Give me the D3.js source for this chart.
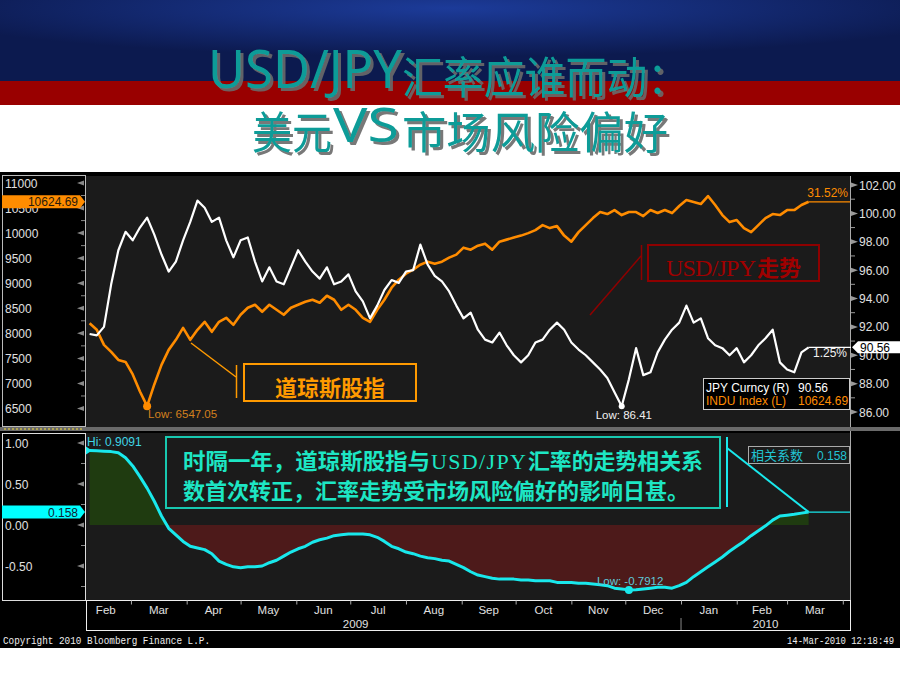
<!DOCTYPE html>
<html><head><meta charset="utf-8">
<script src="https://cdn.jsdelivr.net/npm/d3@7"></script>
<style>body{margin:0;background:#fff;overflow:hidden} svg{display:block}</style>
</head><body><svg id="c" width="900" height="675"></svg>
<script>
// ---------- DATA ----------
const startDate = "2009-02-06";
const stepDays = 4;
const jpy = [91.5,91.4,92.0,95.0,97.4,98.7,98.1,99.0,99.7,98.5,
97.1,95.9,96.6,98.1,99.4,100.9,100.4,99.4,99.7,98.1,
96.9,98.1,98.3,96.6,95.2,96.2,95.2,95.0,96.2,97.4,
96.6,95.9,95.4,96.2,95.0,95.2,95.7,94.5,93.8,92.6,
93.5,94.6,95.3,95.1,95.9,96.0,97.8,96.4,95.6,95.2,
94.5,93.5,92.6,93.0,91.8,91.1,90.9,91.6,90.7,90.0,
89.5,90.0,90.9,91.1,91.8,92.3,91.8,90.9,90.4,90.0,
89.5,89.0,88.4,87.4,86.41,88.3,90.5,88.6,88.8,90.2,
91.1,91.8,92.3,93.5,92.3,92.6,91.2,90.7,90.5,90.0,
90.5,89.5,90.0,90.7,91.2,91.8,89.5,89.0,88.8,90.2,
90.56];
const indu = [8200,8070,7770,7630,7470,7430,7180,6840,6547.05,6980,
7370,7670,7870,8110,7870,8070,8230,8030,8230,8310,
8170,8370,8510,8570,8430,8570,8470,8370,8510,8570,
8630,8670,8610,8750,8670,8470,8570,8470,8310,8230,
8470,8670,8910,9070,9190,9270,9370,9430,9390,9430,
9510,9570,9710,9670,9750,9790,9670,9830,9870,9910,
9950,10000,10060,10160,10100,10140,9950,9830,10020,10160,
10300,10420,10380,10460,10360,10420,10420,10340,10460,10400,
10460,10400,10540,10660,10620,10580,10740,10560,10360,10220,
10260,10100,10020,10160,10300,10380,10360,10460,10460,10560,
10624.69];
const corr = [0.9091,0.905,0.90,0.895,0.88,0.82,0.72,0.59,0.45,0.29,
0.11,-0.04,-0.12,-0.20,-0.26,-0.28,-0.30,-0.35,-0.44,-0.48,
-0.51,-0.52,-0.51,-0.51,-0.50,-0.46,-0.43,-0.38,-0.33,-0.29,
-0.26,-0.21,-0.18,-0.16,-0.13,-0.12,-0.11,-0.11,-0.11,-0.12,
-0.15,-0.20,-0.26,-0.29,-0.33,-0.35,-0.38,-0.40,-0.41,-0.43,
-0.44,-0.48,-0.52,-0.57,-0.61,-0.63,-0.65,-0.66,-0.66,-0.66,
-0.67,-0.67,-0.68,-0.68,-0.68,-0.70,-0.70,-0.70,-0.71,-0.71,
-0.72,-0.73,-0.74,-0.77,-0.78,-0.7912,-0.79,-0.78,-0.77,-0.76,
-0.76,-0.77,-0.74,-0.70,-0.63,-0.57,-0.51,-0.45,-0.39,-0.32,
-0.26,-0.20,-0.13,-0.07,-0.01,0.06,0.11,0.12,0.13,0.145,
0.158];
const changeLabels = ["31.52%", "1.25%"];
const leftTicks = [6500,7000,7500,8000,8500,9000,9500,10000,10500,11000];
const rightTicks = [86,88,90,92,94,96,98,100,102];
const corrTicks = [-0.5,0,0.5,1];
const monthLabels = ["Feb","Mar","Apr","May","Jun","Jul","Aug","Sep","Oct","Nov","Dec","Jan","Feb","Mar"];
const yearLabels = ["2009","2010"];
const domainStart = "2009-02-04", domainEnd = "2010-04-05";

// ---------- SETUP ----------
const svg = d3.select("#c");
const parse = d3.timeParse("%Y-%m-%d");
const t0 = parse(startDate);
const dates = jpy.map((_, i) => d3.timeDay.offset(t0, i * stepDays));
const x = d3.scaleTime().domain([parse(domainStart), parse(domainEnd)]).range([86, 850]);
const yL = d3.scaleLinear().domain([6500, 11000]).range([408.5, 183]);
const yR = d3.scaleLinear().domain([86, 102]).range([412, 185]);
const yC = d3.scaleLinear().domain([-0.5, 1]).range([566, 443]);
const AX = "Liberation Sans, Arial, sans-serif";

// ---------- BANNER ----------
const defs = svg.append("defs");
const rg = defs.append("radialGradient").attr("id","bg").attr("cx","50%").attr("cy","10%").attr("r","60%");
rg.append("stop").attr("offset","0%").attr("stop-color","#1c3b99");
rg.append("stop").attr("offset","100%").attr("stop-color","#0c1a4f");
const sh = defs.append("filter").attr("id","sh").attr("x","-5%").attr("y","-20%").attr("width","115%").attr("height","150%");
sh.append("feDropShadow").attr("dx",3).attr("dy",3).attr("stdDeviation",0.7).attr("flood-color","#6a6a6a").attr("flood-opacity",0.9);
svg.append("rect").attr("x",0).attr("y",0).attr("width",900).attr("height",81).attr("fill","url(#bg)");
svg.append("rect").attr("x",0).attr("y",81).attr("width",900).attr("height",24).attr("fill","#990000");

const g = svg.append("g").attr("fill", "#0a9c98").attr("filter","url(#sh)");
const t1 = g.append("text");
t1.append("tspan").attr("x",208).attr("y",88).style("font-family","Noto Sans, sans-serif").style("font-size","52px")
  .attr("textLength",194).attr("lengthAdjust","spacingAndGlyphs").text("USD/JPY");
t1.append("tspan").attr("x",402).attr("y",94).style("font-family","Noto Sans CJK SC").style("font-size","44px")
  .attr("textLength",286).attr("lengthAdjust","spacingAndGlyphs").text("汇率应谁而动：");
const t2 = g.append("text");
t2.append("tspan").attr("x",252).attr("y",149).style("font-family","Noto Sans CJK SC").style("font-size","44px")
  .attr("textLength",80).attr("lengthAdjust","spacingAndGlyphs").text("美元");
t2.append("tspan").attr("x",333).attr("y",142).style("font-family","Noto Sans, sans-serif").style("font-size","48px")
  .attr("textLength",66).attr("lengthAdjust","spacingAndGlyphs").text("VS");
t2.append("tspan").attr("x",402).attr("y",149).style("font-family","Noto Sans CJK SC").style("font-size","44px")
  .attr("textLength",266).attr("lengthAdjust","spacingAndGlyphs").text("市场风险偏好");

// ---------- CHART FRAME ----------
svg.append("rect").attr("x",0).attr("y",172).attr("width",900).attr("height",476).attr("fill","#000");
svg.append("rect").attr("x",86).attr("y",176).attr("width",764).attr("height",251).attr("fill","#1b1b1b");
svg.append("rect").attr("x",86).attr("y",433).attr("width",764).attr("height",167).attr("fill","#1b1b1b");
svg.append("rect").attr("x",2.5).attr("y",175.5).attr("width",83).attr("height",251).attr("fill","none").attr("stroke","#bbb");
svg.append("line").attr("x1",850.5).attr("x2",850.5).attr("y1",176).attr("y2",600).attr("stroke","#aaa");
svg.append("rect").attr("x",0).attr("y",427).attr("width",900).attr("height",4).attr("fill","#6a6a6a");
svg.append("line").attr("x1",4).attr("x2",84).attr("y1",429).attr("y2",429).attr("stroke","#c8b84a").attr("stroke-width",1.5).attr("stroke-dasharray","2,2");
svg.append("rect").attr("x",2.5).attr("y",433.5).attr("width",83).attr("height",167).attr("fill","none").attr("stroke","#ddd");

// ---------- TOP AXES ----------
const gl = svg.append("g");
leftTicks.forEach(v => {
  const y = yL(v);
  gl.append("path").attr("d",`M77,${y}L84,${y-2.5}L84,${y+2.5}Z`).attr("fill","#888");
  gl.append("text").attr("x",5).attr("y",y+4.5).attr("fill","#e0e0e0").style("font-family",AX).style("font-size","12px").text(v);
});
d3.range(6750, 11000, 500).forEach(v => gl.append("line").attr("x1",81).attr("x2",85).attr("y1",yL(v)).attr("y2",yL(v)).attr("stroke","#888"));
rightTicks.forEach(v => {
  const y = yR(v);
  gl.append("path").attr("d",`M851,${y-2.5}L858,${y}L851,${y+2.5}Z`).attr("fill","#999");
  gl.append("text").attr("x",859).attr("y",y+4.5).attr("fill","#e0e0e0").style("font-family",AX).style("font-size","12px").text(v.toFixed(2));
});
d3.range(87, 102, 2).forEach(v => gl.append("line").attr("x1",851).attr("x2",855).attr("y1",yR(v)).attr("y2",yR(v)).attr("stroke","#999"));

// ---------- TOP SERIES ----------
const lineI = d3.line().x((d,i)=>x(dates[i])).y(d=>yL(d));
const lineJ = d3.line().x((d,i)=>x(dates[i])).y(d=>yR(d));
svg.append("path").attr("d",lineI(indu)).attr("fill","none").attr("stroke","#ff8c00").attr("stroke-width",2.6).attr("stroke-linejoin","round");
svg.append("path").attr("d",lineJ(jpy)).attr("fill","none").attr("stroke","#ffffff").attr("stroke-width",2.2).attr("stroke-linejoin","round");

const iLow = indu.indexOf(d3.min(indu)), jLow = jpy.indexOf(d3.min(jpy));
svg.append("circle").attr("cx",x(dates[iLow])).attr("cy",yL(indu[iLow])).attr("r",4).attr("fill","#ff8c00");
svg.append("text").attr("x",x(dates[iLow])+1).attr("y",418).attr("fill","#d4801e").style("font-family",AX).style("font-size","11.5px").text("Low: " + d3.format(".2f")(indu[iLow]));
svg.append("circle").attr("cx",x(dates[jLow])).attr("cy",yR(jpy[jLow])).attr("r",3).attr("fill","#fff");
svg.append("text").attr("x",x(dates[jLow])-26).attr("y",419).attr("fill","#f0f0f0").style("font-family",AX).style("font-size","11.5px").text("Low: " + jpy[jLow]);

const last = jpy.length - 1;
const xe = x(dates[last]);
svg.append("line").attr("x1",xe).attr("x2",850).attr("y1",yL(indu[last])).attr("y2",yL(indu[last])).attr("stroke","#ff8c00").attr("stroke-width",1.2);
svg.append("text").attr("x",848).attr("y",yL(indu[last])-5).attr("text-anchor","end").attr("fill","#ff8c00").style("font-family",AX).style("font-size","12px").text(changeLabels[0]);
svg.append("line").attr("x1",xe).attr("x2",851).attr("y1",yR(jpy[last])).attr("y2",yR(jpy[last])).attr("stroke","#fff").attr("stroke-width",1.2);
svg.append("text").attr("x",813).attr("y",yR(jpy[last])+10).attr("fill","#f0f0f0").style("font-family",AX).style("font-size","12px").text(changeLabels[1]);

// value tags
const yi = yL(indu[last]);
svg.append("path").attr("d",`M2,${yi-6.5}L80,${yi-6.5}L85,${yi}L80,${yi+6.5}L2,${yi+6.5}Z`).attr("fill","#ff8c00");
svg.append("text").attr("x",78).attr("y",yi+4.5).attr("text-anchor","end").attr("fill","#2a1a0a").style("font-family",AX).style("font-size","12px").text(d3.format(".2f")(indu[last]));
const yj = yR(jpy[last]);
svg.append("path").attr("d",`M852,${yj}L858,${yj-6}L900,${yj-6}L900,${yj+6}L858,${yj+6}Z`).attr("fill","#fff");
svg.append("text").attr("x",860).attr("y",yj+4.5).attr("fill","#000").style("font-family",AX).style("font-size","12px").text(jpy[last].toFixed(2));

// legend
svg.append("rect").attr("x",703.5).attr("y",378.5).attr("width",146).attr("height",31).attr("fill","#000").attr("stroke","#ccc");
svg.append("text").attr("x",706).attr("y",392).attr("fill","#fff").style("font-family",AX).style("font-size","12px").text("JPY Curncy (R)");
svg.append("text").attr("x",798).attr("y",392).attr("fill","#fff").style("font-family",AX).style("font-size","12px").text(jpy[last].toFixed(2));
svg.append("text").attr("x",706).attr("y",405).attr("fill","#ff8c00").style("font-family",AX).style("font-size","12px").text("INDU Index (L)");
svg.append("text").attr("x",798).attr("y",405).attr("fill","#ff8c00").style("font-family",AX).style("font-size","12px").text(d3.format(".2f")(indu[last]));

// annotations top
const OR = "#ff9a00";
svg.append("line").attr("x1",191).attr("y1",343).attr("x2",236).attr("y2",377).attr("stroke",OR).attr("stroke-width",1.5);
svg.append("line").attr("x1",236.5).attr("y1",365).attr("x2",236.5).attr("y2",398).attr("stroke",OR).attr("stroke-width",1.5);
svg.append("rect").attr("x",244).attr("y",364).attr("width",172).attr("height",37).attr("fill","none").attr("stroke",OR).attr("stroke-width",2);
svg.append("text").attr("x",330).attr("y",396).attr("text-anchor","middle").attr("fill",OR).style("font-family","Noto Sans CJK SC").style("font-weight","700").style("font-size","22px").text("道琼斯股指");

const DR = "#8e0000";
svg.append("line").attr("x1",590).attr("y1",315).attr("x2",641).attr("y2",256).attr("stroke",DR).attr("stroke-width",1.5);
svg.append("line").attr("x1",641.5).attr("y1",245).attr("x2",641.5).attr("y2",280).attr("stroke",DR).attr("stroke-width",1.5);
svg.append("rect").attr("x",648).attr("y",245).attr("width",171).attr("height",36).attr("fill","none").attr("stroke",DR).attr("stroke-width",2);
const tr = svg.append("text").attr("y",276).attr("fill","#a00000");
tr.append("tspan").attr("x",666).style("font-family","Liberation Serif, serif").style("font-size","24px").attr("textLength",90).attr("lengthAdjust","spacing").text("USD/JPY");
tr.append("tspan").attr("x",757).style("font-family","Noto Sans CJK SC").style("font-weight","700").style("font-size","22px").text("走势");

// ---------- BOTTOM PANEL ----------
const clipA = defs.append("clipPath").attr("id","above");
clipA.append("rect").attr("x",86).attr("y",433).attr("width",764).attr("height",yC(0)-433);
const clipB = defs.append("clipPath").attr("id","below");
clipB.append("rect").attr("x",86).attr("y",yC(0)).attr("width",764).attr("height",600-yC(0));
const area = d3.area().x((d,i)=>x(dates[i])).y0(yC(0)).y1(d=>yC(d));
svg.append("path").attr("d",area(corr)).attr("fill","#1f3b10").attr("clip-path","url(#above)");
svg.append("path").attr("d",area(corr)).attr("fill","#4d1a1a").attr("clip-path","url(#below)");
svg.append("path").attr("d",d3.line().x((d,i)=>x(dates[i])).y(d=>yC(d))(corr)).attr("fill","none").attr("stroke","#19e8ec").attr("stroke-width",3).attr("stroke-linejoin","round");

corrTicks.forEach(v => {
  const y = yC(v);
  svg.append("path").attr("d",`M77,${y}L84,${y-2.5}L84,${y+2.5}Z`).attr("fill","#888");
  svg.append("text").attr("x",5).attr("y",y+4.5).attr("fill","#e0e0e0").style("font-family",AX).style("font-size","12px").text(v.toFixed(2));
});
[-0.75,-0.25,0.25,0.75].forEach(v => svg.append("line").attr("x1",81).attr("x2",85).attr("y1",yC(v)).attr("y2",yC(v)).attr("stroke","#888"));

const cHi = corr.indexOf(d3.max(corr)), cLo = corr.indexOf(d3.min(corr));
svg.append("path").attr("d",`M86,${yC(corr[cHi])-4}L92,${yC(corr[cHi])}L86,${yC(corr[cHi])+4}Z`).attr("fill","#19e8ec");
svg.append("text").attr("x",87).attr("y",446).attr("fill","#3fd6e6").style("font-family",AX).style("font-size","12px").text("Hi: " + corr[cHi]);
svg.append("circle").attr("cx",x(dates[cLo])).attr("cy",yC(corr[cLo])).attr("r",4).attr("fill","#19e8ec");
svg.append("text").attr("x",x(dates[cLo])-32).attr("y",585).attr("fill","#5fc8d8").style("font-family",AX).style("font-size","11.5px").text("Low: " + corr[cLo]);

const yc = yC(corr[last]);
svg.append("line").attr("x1",x(dates[last])).attr("x2",850).attr("y1",yc).attr("y2",yc).attr("stroke","#19e8ec").attr("stroke-width",1.2);
svg.append("path").attr("d",`M2,${yc-6.5}L80,${yc-6.5}L85,${yc}L80,${yc+6.5}L2,${yc+6.5}Z`).attr("fill","#00ffff");
svg.append("text").attr("x",78).attr("y",yc+4.5).attr("text-anchor","end").attr("fill","#123").style("font-family",AX).style("font-size","12px").text(corr[last]);

// callout box
const CY = "#18c8b0";
svg.append("rect").attr("x",166).attr("y",437).attr("width",554).attr("height",71).attr("fill","#1b1b1b").attr("stroke",CY).attr("stroke-width",2);
const ct = "#1de6c4";
const l1 = svg.append("text").attr("y",469).attr("fill",ct).style("font-family","Noto Sans CJK SC").style("font-weight","700").style("font-size","22px");
l1.append("tspan").attr("x",183).attr("textLength",247).attr("lengthAdjust","spacingAndGlyphs").text("时隔一年，道琼斯股指与");
l1.append("tspan").attr("x",431).style("font-family","Liberation Serif, serif").style("font-weight","400").style("font-size","22px").attr("textLength",95).attr("lengthAdjust","spacing").text("USD/JPY");
l1.append("tspan").attr("x",528).attr("textLength",175).attr("lengthAdjust","spacingAndGlyphs").text("汇率的走势相关系");
svg.append("text").attr("x",183).attr("y",499).attr("fill",ct).style("font-family","Noto Sans CJK SC").style("font-weight","700").style("font-size","22px")
  .attr("textLength",506).attr("lengthAdjust","spacingAndGlyphs").text("数首次转正，汇率走势受市场风险偏好的影响日甚。");
svg.append("line").attr("x1",727).attr("x2",727).attr("y1",437).attr("y2",507).attr("stroke","#19e8ec").attr("stroke-width",2);
svg.append("line").attr("x1",727).attr("y1",448).attr("x2",x(dates[last])).attr("y2",yc).attr("stroke","#19e8ec").attr("stroke-width",2);
svg.append("rect").attr("x",748.5).attr("y",446.5).attr("width",101).attr("height",17).attr("fill","#1b1b1b").attr("stroke","#aaa");
svg.append("text").attr("x",751).attr("y",460).attr("fill","#22c4d4").style("font-family","Noto Sans CJK SC").style("font-size","13px").text("相关系数");
svg.append("text").attr("x",847).attr("y",460).attr("text-anchor","end").attr("fill","#22c4d4").style("font-family",AX).style("font-size","12px").text(corr[last]);

// ---------- X AXIS ----------
svg.append("rect").attr("x",86.5).attr("y",600.5).attr("width",764).attr("height",30).attr("fill","#000").attr("stroke","#eee");
const months = d3.timeMonth.range(d3.timeMonth.ceil(x.domain()[0]), x.domain()[1]);
const xAxis = d3.axisBottom(x).tickValues(months).tickSize(4).tickFormat("");
const gx = svg.append("g").attr("transform","translate(0,600.5)").call(xAxis);
gx.select(".domain").remove();
gx.selectAll("line").attr("stroke","#aaa");
const monthStarts = [d3.timeMonth.floor(x.domain()[0])].concat(months);
monthStarts.forEach((m, i) => {
  const a = Math.max(+m, +x.domain()[0]);
  const b = Math.min(+d3.timeMonth.offset(m,1), +x.domain()[1]);
  let cx = x(new Date((a+b)/2));
  if (i === 0) cx = x(d3.timeDay.offset(m, 14));
  if (i === monthStarts.length-1) cx = x(d3.timeDay.offset(m, 15));
  svg.append("text").attr("x",cx).attr("y",614).attr("text-anchor","middle").attr("fill","#e0e0e0").style("font-family",AX).style("font-size","11.5px").text(monthLabels[i]);
});
const y2010 = parse("2010-01-01");
svg.append("line").attr("x1",x(y2010)).attr("x2",x(y2010)).attr("y1",618).attr("y2",630).attr("stroke","#888");
svg.append("text").attr("x",x(parse("2009-07-04"))).attr("y",628).attr("text-anchor","middle").attr("fill","#e0e0e0").style("font-family",AX).style("font-size","11.5px").text(yearLabels[0]);
svg.append("text").attr("x",(x(y2010)+850)/2).attr("y",628).attr("text-anchor","middle").attr("fill","#e0e0e0").style("font-family",AX).style("font-size","11.5px").text(yearLabels[1]);

// footer
svg.append("text").attr("x",3).attr("y",644).attr("fill","#eee").style("font-family","Liberation Mono, monospace").style("font-size","10px").attr("textLength",207).attr("lengthAdjust","spacingAndGlyphs").text("Copyright 2010 Bloomberg Finance L.P.");
svg.append("text").attr("x",787).attr("y",644).attr("fill","#eee").style("font-family","Liberation Mono, monospace").style("font-size","10px").attr("textLength",107).attr("lengthAdjust","spacingAndGlyphs").text("14-Mar-2010 12:18:49");
</script></body></html>
